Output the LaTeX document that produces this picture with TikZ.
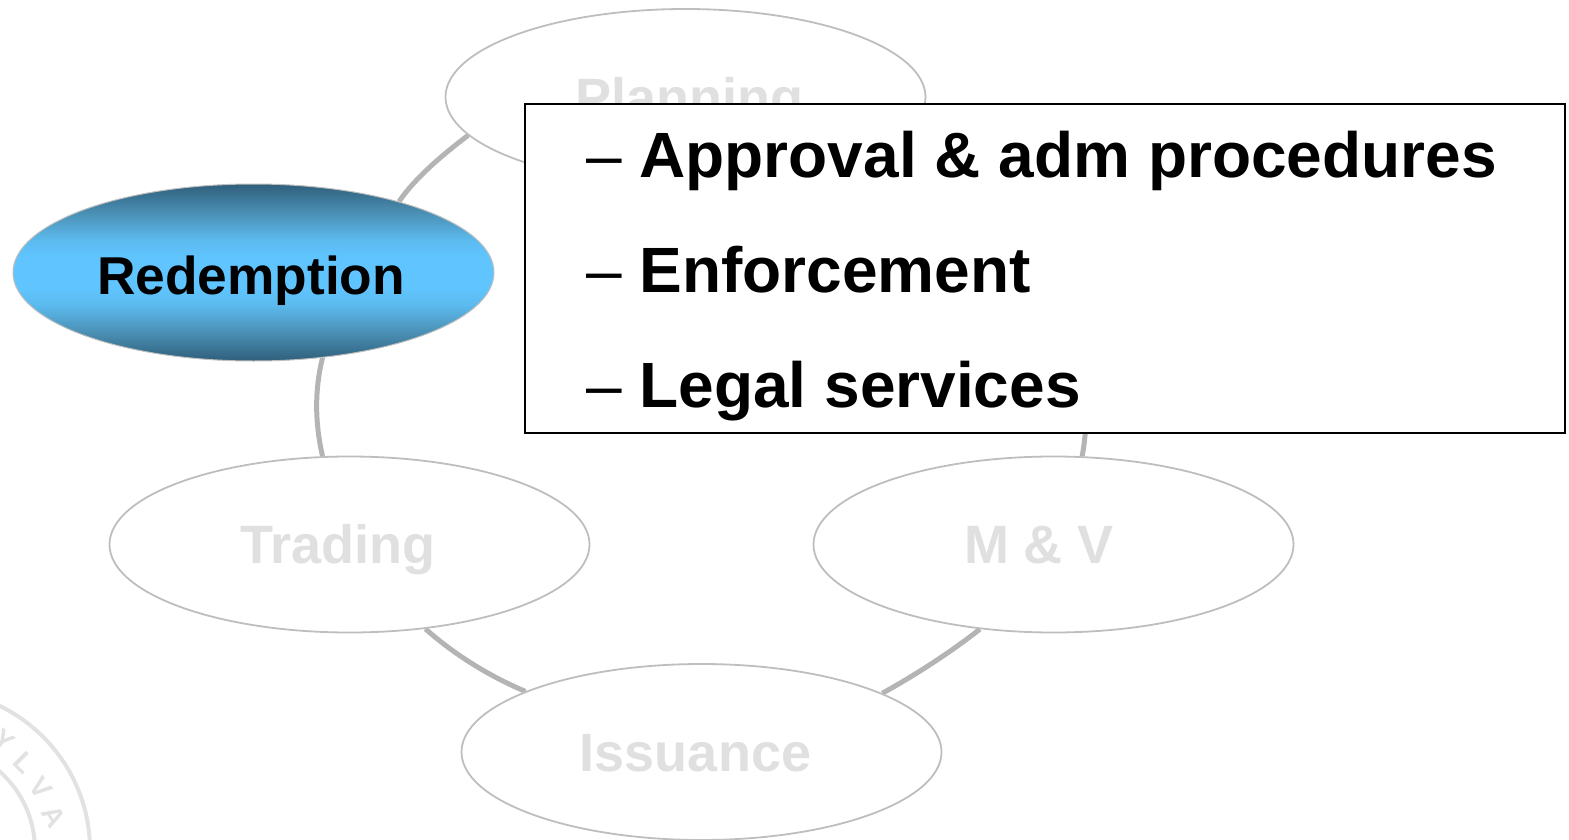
\documentclass[tikz,border=0pt]{standalone}
\usepackage{fontspec}
\setmainfont{Liberation Sans}
\usetikzlibrary{shapes.geometric,backgrounds}
\definecolor{ringgray}{HTML}{B4B4B4}
\definecolor{edgegray}{HTML}{BEBEBE}
\definecolor{fadetext}{HTML}{E0E0E0}
\definecolor{sealgray}{HTML}{E2E2E2}
\definecolor{darkblue}{HTML}{2F5F7B}
\definecolor{midblue}{HTML}{5CBBEF}
\definecolor{lightblue}{HTML}{60C5FF}
\definecolor{stepblue}{HTML}{4A8FB4}
\pgfdeclareverticalshading{redgrad}{100bp}{color(0bp)=(darkblue); color(25bp)=(darkblue); color(33bp)=(stepblue); color(41bp)=(midblue); color(46bp)=(lightblue); color(54bp)=(lightblue); color(59bp)=(midblue); color(67bp)=(stepblue); color(75bp)=(darkblue); color(100bp)=(darkblue)}
\tikzset{
  phase/.style={ellipse,draw=edgegray,line width=1.8pt,fill=white,minimum width=480pt,minimum height=176pt,inner sep=0pt},
  active/.style={ellipse,draw=edgegray,line width=1pt,shading=redgrad,minimum width=481pt,minimum height=177pt,inner sep=0pt},
  fadelabel/.style={anchor=base,inner sep=0pt,text=fadetext,font=\fontsize{54}{54}\selectfont\bfseries},
  activelabel/.style={anchor=base,inner sep=0pt,text=black,font=\fontsize{53.3}{53.3}\selectfont\bfseries},
  ring/.style={draw=ringgray,line width=5pt},
  listbox/.style={draw=black,line width=2pt,fill=white,minimum width=1040pt,minimum height=329pt,inner sep=0pt},
  listline/.style={anchor=base west,inner sep=0pt,text=black,font=\fontsize{64}{64}\selectfont\bfseries},
  sealline/.style={draw=sealgray,line width=4pt},
  sealletter/.style={inner sep=0pt,text=sealgray,font=\fontsize{28}{28}\selectfont\bfseries}
}
\begin{document}
\begin{tikzpicture}[x=1pt,y=-1pt]
\useasboundingbox (0,0) rectangle (1569,840);
\clip (0,0) rectangle (1569,840);

\node[phase] (plan) at (685.5,97) {};
\node[phase] (trad) at (349.5,544.5) {};
\node[phase] (mv) at (1053.5,544.5) {};
\node[phase] (iss) at (701.5,752) {};
\node[active] (red) at (253.5,272.5) {};

\node[fadelabel] (planlabel) at (689.5,117) {Planning};
\node[fadelabel] (tradlabel) at (338,563) {Trading};
\node[fadelabel] (mvlabel) at (1039,563) {M \& V};
\node[fadelabel] (isslabel) at (695.5,771) {Issuance};
\node[activelabel] (redlabel) at (251,294) {Redemption};

\begin{pgfonlayer}{background}
  \draw[sealline] (-70,850) circle[radius=160];
  \draw[sealline] (-70,850) circle[radius=105];
  \node[sealletter,rotate=-38] (sealy) at (4,741) {Y};
  \node[sealletter,rotate=-45] (seall) at (24,763) {L};
  \node[sealletter,rotate=-52] (sealv) at (41,788) {V};
  \node[sealletter,rotate=-60] (seala) at (54,816) {A};
  \path[ring] (plan.190.4) .. controls (442.1,155.1) and (415.3,177.8) .. (red.26.2);
  \path[ring] (red.-51.7) .. controls (314.2,391) and (315.2,424.2) .. (trad.107.2);
  \path[ring] (trad.-48.3) .. controls (452.3,652.9) and (487.7,675.6) .. (iss.161.3);
  \path[ring] (iss.18.7) .. controls (914.3,675.6) and (949.7,652.9) .. (mv.-131.7);
  \path[ring] (mv.72.3) .. controls (1104.6,333.7) and (1030,191) .. (plan.-7);
\end{pgfonlayer}

\node[listbox] (box) at (1045,268.5) {};
\node[listline] (l1) at (586,178) {{\mdseries –} Approval \& adm procedures};
\node[listline] (l2) at (586,292) {{\mdseries –} Enforcement};
\node[listline] (l3) at (586,407) {{\mdseries –} Legal services};
\end{tikzpicture}
\end{document}
